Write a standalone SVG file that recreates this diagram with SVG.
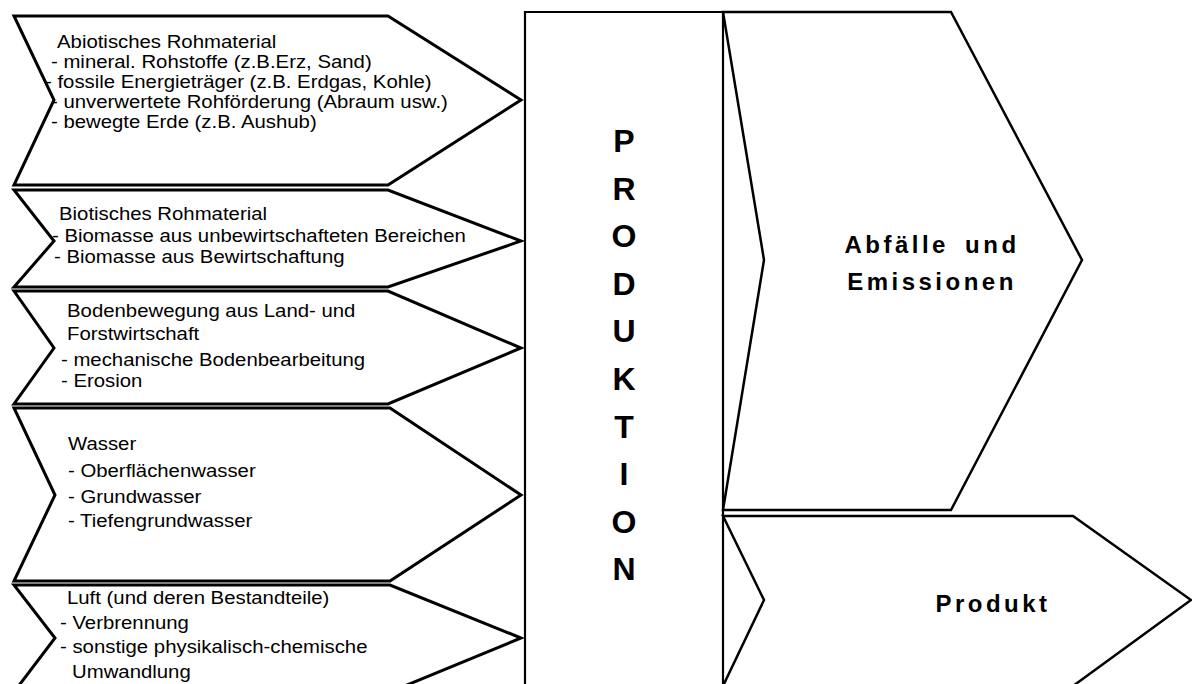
<svg xmlns="http://www.w3.org/2000/svg" width="1192" height="684" viewBox="0 0 1192 684">
<style>
.shp{fill:#fff;stroke:#000;stroke-width:3;stroke-linejoin:miter;stroke-miterlimit:10}
.rshp{fill:#fff;stroke:#000;stroke-width:2.5;stroke-linejoin:miter;stroke-miterlimit:12}
.box{fill:#fff;stroke:#000;stroke-width:2.2}
.t{font-family:"Liberation Sans",Arial,Helvetica,sans-serif;font-size:18.5px;fill:#000}
.b{font-family:"Liberation Sans",Arial,Helvetica,sans-serif;font-weight:bold;font-size:24px;letter-spacing:3.5px;text-anchor:middle;fill:#000}
.p{font-family:"Liberation Sans",Arial,Helvetica,sans-serif;font-weight:bold;font-size:32px;text-anchor:middle;fill:#000}
</style>
<rect width="1192" height="684" fill="#fff"/>
<g id="produktion">
<path class="box" d="M525,700 V12 H723 V700"/>
<text class="p" x="624" y="152">P</text>
<text class="p" x="624" y="199.6">R</text>
<text class="p" x="624" y="247.2">O</text>
<text class="p" x="624" y="294.8">D</text>
<text class="p" x="624" y="342.4">U</text>
<text class="p" x="624" y="390">K</text>
<text class="p" x="624" y="437.6">T</text>
<text class="p" x="624" y="485.2">I</text>
<text class="p" x="624" y="532.8">O</text>
<text class="p" x="624" y="580.4">N</text>
</g>
<g id="abiotisch">
<polygon class="shp" points="14,16 388,16 521,100 388,185 14,185 54,100"/>
<text class="t" transform="translate(57,48) scale(1.1,1)">Abiotisches Rohmaterial</text>
<text class="t" transform="translate(51,68) scale(1.1,1)">- mineral. Rohstoffe (z.B.Erz, Sand)</text>
<text class="t" transform="translate(45,88) scale(1.1,1)">- fossile Energieträger (z.B. Erdgas, Kohle)</text>
<text class="t" transform="translate(51,108) scale(1.1,1)">- unverwertete Rohförderung (Abraum usw.)</text>
<text class="t" transform="translate(51,128) scale(1.1,1)">- bewegte Erde (z.B. Aushub)</text>
</g>
<g id="biotisch">
<polygon class="shp" points="14,190 388,190 521,241 388,287 14,287 54,241"/>
<text class="t" transform="translate(59,220) scale(1.1,1)">Biotisches Rohmaterial</text>
<text class="t" transform="translate(52,242) scale(1.1,1)">- Biomasse aus unbewirtschafteten Bereichen</text>
<text class="t" transform="translate(54,263) scale(1.1,1)">- Biomasse aus Bewirtschaftung</text>
</g>
<g id="boden">
<polygon class="shp" points="14,291 388,291 521,348 388,404 14,404 54,348"/>
<text class="t" transform="translate(67,317) scale(1.1,1)">Bodenbewegung aus Land- und</text>
<text class="t" transform="translate(67,340) scale(1.1,1)">Forstwirtschaft</text>
<text class="t" transform="translate(61,366) scale(1.1,1)">- mechanische Bodenbearbeitung</text>
<text class="t" transform="translate(61,387) scale(1.1,1)">- Erosion</text>
</g>
<g id="wasser">
<polygon class="shp" points="14,408 390,408 521,495 390,581 14,581 55,495"/>
<text class="t" transform="translate(68,450) scale(1.1,1)">Wasser</text>
<text class="t" transform="translate(68,477) scale(1.1,1)">- Oberflächenwasser</text>
<text class="t" transform="translate(68,503) scale(1.1,1)">- Grundwasser</text>
<text class="t" transform="translate(68,527) scale(1.1,1)">- Tiefengrundwasser</text>
</g>
<g id="luft">
<polygon class="shp" points="14,585 390,585 521,638 390,692 14,692 55,638"/>
<text class="t" transform="translate(67,604) scale(1.1,1)">Luft (und deren Bestandteile)</text>
<text class="t" transform="translate(60,629) scale(1.1,1)">- Verbrennung</text>
<text class="t" transform="translate(60,653) scale(1.1,1)">- sonstige physikalisch-chemische</text>
<text class="t" transform="translate(72,678) scale(1.1,1)">Umwandlung</text>
</g>
<g id="abfaelle">
<polygon class="rshp" points="723,12 951,12 1082,260 951,510 723,510 764,260"/>
<text class="b" x="932" y="253">Abfälle<tspan dx="6"> und</tspan></text>
<text class="b" x="932" y="290">Emissionen</text>
</g>
<g id="produkt">
<polygon class="rshp" points="723,516 1073,516 1191,600 1073,686 723,686 764,600"/>
<text class="b" x="993" y="612">Produkt</text>
</g>
<g id="connectors"/>
</svg>
